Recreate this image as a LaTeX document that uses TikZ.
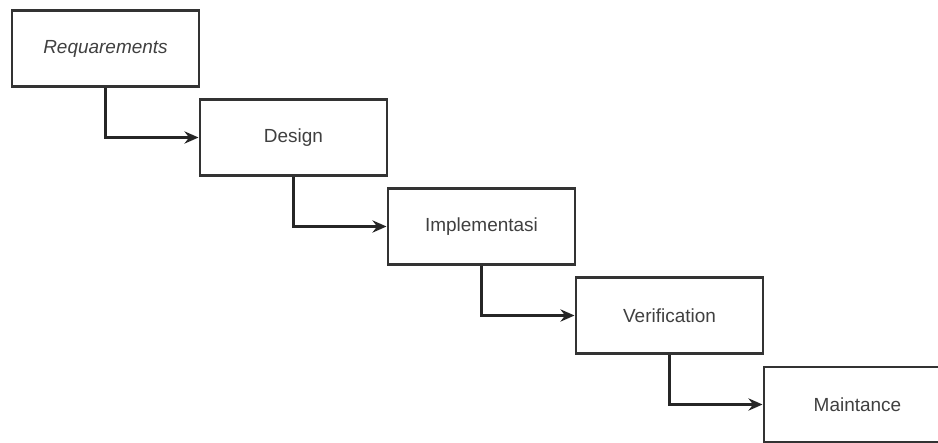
\documentclass[tikz,border=0pt]{standalone}
\usepackage{fontspec}
\setmainfont{Liberation Sans}
\usetikzlibrary{arrows.meta}

\begin{document}
\begin{tikzpicture}[x=0.02cm, y=-0.02cm,
    phase/.style={draw=black!80, line width=1.15pt, fill=white,
        minimum width=3.76cm, minimum height=1.52cm, inner sep=0pt,
        text=black!75, font=\fontsize{10.8}{13}\selectfont},
    flow/.style={draw=black!85, line width=1.15pt, -{Stealth[length=8pt,width=7pt]}}]
    \newcommand\dx{188}
    \newcommand\dy{89}
    \newcommand\xo{105.5}
    \newcommand\yo{48.5}

    \useasboundingbox (0,0) rectangle (938,443);
    \clip (0,0) rectangle (938,443);

    \node[phase] (req) at (\xo,\yo) {\textit{Requarements}};
    \node[phase] (des) at (\xo+\dx,\yo+\dy) {Design};
    \node[phase] (imp) at (\xo+2*\dx,\yo+2*\dy) {Implementasi};
    \node[phase] (ver) at (\xo+3*\dx,\yo+3*\dy) {Verification};
    \node[phase] (mnt) at (\xo+4*\dx,\yo+4*\dy) {Maintance};

    % waterfall steps
    \draw[flow] (req.south) |- (des.west);
    \draw[flow] (des.south) |- (imp.west);
    \draw[flow] (imp.south) |- (ver.west);
    \draw[flow] (ver.south) |- (mnt.west);
\end{tikzpicture}
\end{document}
